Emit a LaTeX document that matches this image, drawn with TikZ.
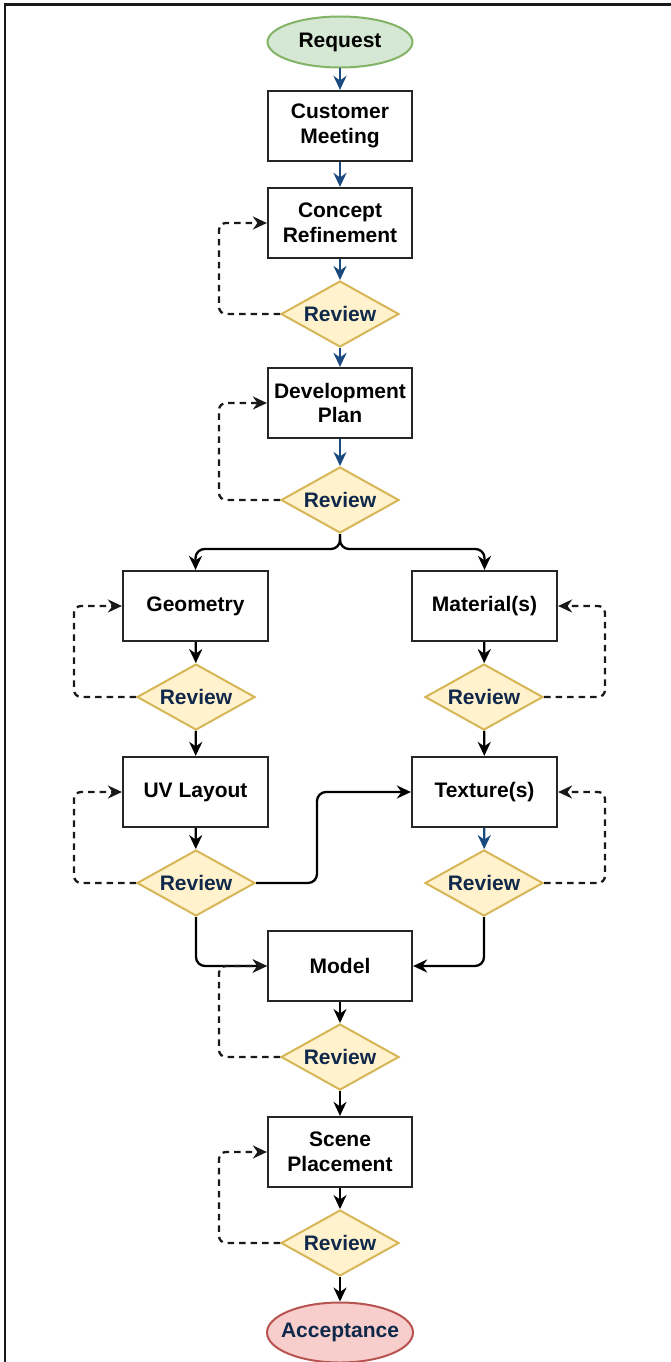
\documentclass[tikz,border=0pt]{standalone}
\usepackage{fontspec}
\setmainfont{Liberation Sans}
\usetikzlibrary{shapes.geometric,arrows.meta,calc}
\definecolor{flowblue}{HTML}{1B4A80}
\definecolor{navy}{HTML}{10284A}
\definecolor{gfill}{HTML}{D5E8D4}
\definecolor{gline}{HTML}{82B366}
\definecolor{rfill}{HTML}{F8CECC}
\definecolor{rline}{HTML}{B85450}
\definecolor{yfill}{HTML}{FFF2CC}
\definecolor{yline}{HTML}{D6B656}
\tikzset{
  every node/.style={font=\fontsize{21}{24.5}\selectfont\bfseries},
  stepbox/.style={draw=black!85, line width=2.2pt, fill=white, minimum width=144, minimum height=70, align=center, inner sep=0pt},
  term/.style={ellipse, line width=2pt, minimum width=145, minimum height=51, inner sep=0pt},
  decision/.style={diamond, draw=yline, fill=yfill, line width=2pt, minimum width=118, minimum height=66, inner sep=0pt, aspect=1.79, text=navy},
  tip/.style={-{Stealth[length=14pt,width=13pt,inset=4.5pt]}},
  flowb/.style={tip, draw=flowblue, line width=2.3pt},
  flowk/.style={tip, draw=black, line width=2.3pt, rounded corners=9pt},
  redo/.style={tip, draw=black!90, line width=2.3pt, dash pattern=on 6.5pt off 5pt, rounded corners=7pt}
}
\begin{document}
\begin{tikzpicture}[x=1pt,y=-1pt]
\useasboundingbox (0,0) rectangle (670,1362);
\fill[white] (0,0) rectangle (670,1362);
\draw[line width=2.5pt, black!90] (5,1364) -- (5,4.5) -- (672,4.5);

\node[term, draw=gline, fill=gfill] (req) at (340,42) {\makebox[0pt]{Request}};
\node[stepbox] (cm) at (340,126) {Customer\\Meeting};
\node[stepbox] (cr) at (340,223) {Concept\\Refinement};
\node[decision] (r1) at (340,314) {Review};
\node[stepbox] (dp) at (340,403) {Development\\Plan};
\node[decision] (r2) at (340,500) {Review};
\node[stepbox, minimum width=145] (geo) at (195.5,606) {Geometry};
\node[stepbox, minimum width=145] (mat) at (484.5,606) {Material(s)};
\node[decision] (rgeo) at (196,697) {Review};
\node[decision] (rmat) at (484,697) {Review};
\node[stepbox, minimum width=145] (uv) at (195.5,792) {UV Layout};
\node[stepbox, minimum width=145] (tex) at (484.5,792) {Texture(s)};
\node[decision] (ruv) at (196,883) {Review};
\node[decision] (rtex) at (484,883) {Review};
\node[stepbox] (model) at (340,966) {Model};
\node[decision] (rmod) at (340,1057) {Review};
\node[stepbox] (scene) at (340,1152) {Scene\\Placement};
\node[decision] (rsc) at (340,1243) {Review};
\node[term, draw=rline, fill=rfill, text=navy, minimum height=60, minimum width=146] (acc) at (340,1332.5) {\makebox[0pt]{Acceptance}};

% main flow
\draw[flowb] (req) -- (cm);
\draw[flowb] (cm) -- (cr);
\draw[flowb] (cr) -- (r1);
\draw[flowb] (r1) -- (dp);
\draw[flowb] (dp) -- (r2);
\draw[flowk] (r2.south) -- ++(0,15) -| (geo.north);
\draw[flowk] (r2.south) -- ++(0,15) -| (mat.north);
\draw[flowk] (geo) -- (rgeo);
\draw[flowk] (mat) -- (rmat);
\draw[flowk] (rgeo) -- (uv);
\draw[flowk] (rmat) -- (tex);
\draw[flowk] (uv) -- (ruv);
\draw[flowb] (tex) -- (rtex);
\draw[flowk] (ruv.east) -- ++(61,0) |- (tex.west);
\draw[flowk] (ruv.south) |- (model.west);
\draw[flowk] (rtex.south) |- (model.east);
\draw[flowk] (model) -- (rmod);
\draw[flowk] (rmod) -- (scene);
\draw[flowk] (scene) -- (rsc);
\draw[flowk] (rsc) -- (acc);

% review loops
\draw[redo] (r1.west) -- ++(-61,0) |- (cr.west);
\draw[redo] (r2.west) -- ++(-61,0) |- (dp.west);
\draw[redo] (rgeo.west) -- ++(-62,0) |- (geo.west);
\draw[redo] (ruv.west) -- ++(-62,0) |- (uv.west);
\draw[redo] (rmat.east) -- ++(61,0) |- (mat.east);
\draw[redo] (rtex.east) -- ++(61,0) |- (tex.east);
\draw[redo] (rmod.west) -- ++(-61,0) |- (model.west);
\draw[redo] (rsc.west) -- ++(-61,0) |- (scene.west);
\end{tikzpicture}
\end{document}
